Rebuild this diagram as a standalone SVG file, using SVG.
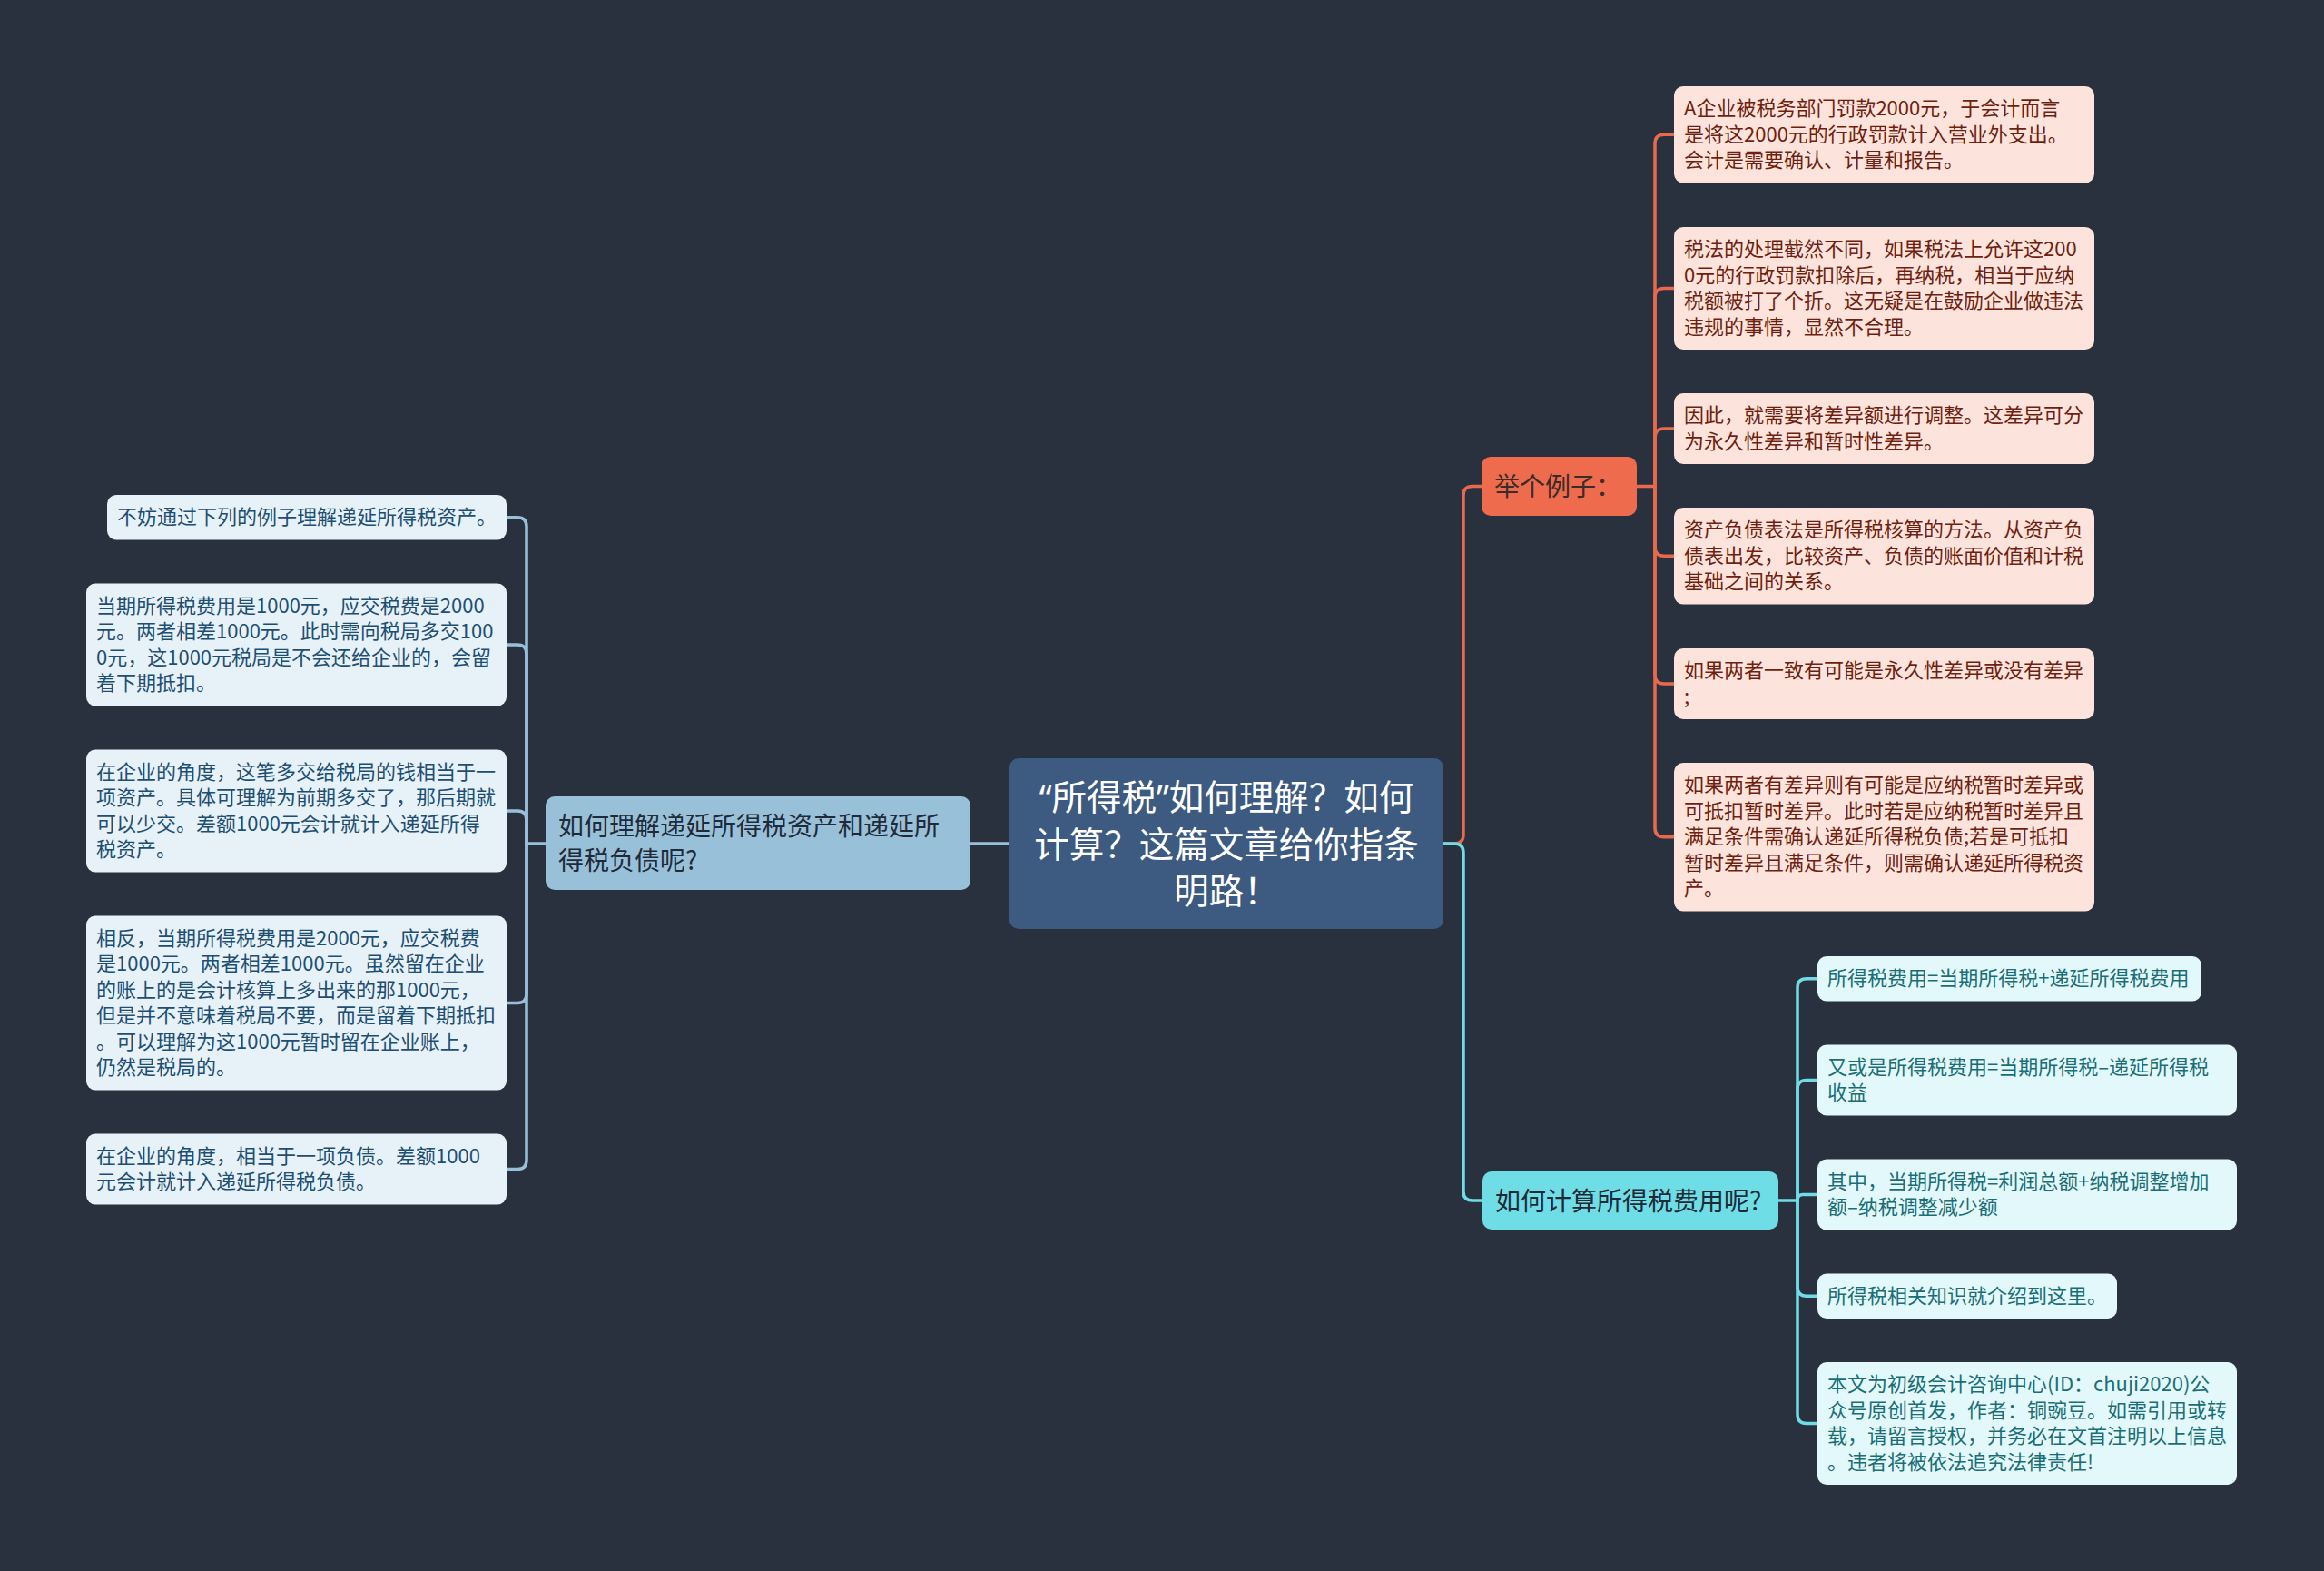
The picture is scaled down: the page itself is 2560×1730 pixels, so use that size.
<svg xmlns="http://www.w3.org/2000/svg" width="2560" height="1730" viewBox="0 0 2560 1730">
<style>
text{font-family:"Noto Sans CJK SC","Noto Sans",sans-serif}
.leaf{font-size:22px}
.q{font-family:"Noto Sans","Noto Sans CJK SC",sans-serif}
.con{fill:none;stroke-width:3.5;stroke-linecap:round;stroke-linejoin:round}
.cO{stroke:#e8694c}.cC{stroke:#6fdde6}.cB{stroke:#98c1d9}
.oL rect{fill:#fce3dc}.oL text{fill:#6f1f0f}
.cL rect{fill:#e3f8fa}.cL text{fill:#1a6f76}
.bL rect{fill:#e7f1f8}.bL text{fill:#1d4f73}
</style>
<rect width="2560" height="1730" fill="#29313f"/>
<g id="connectors">
<path class="con cB" d="M1112,929 H1069"/>
<path class="con cB" d="M601,929 H580"/>
<path class="con cB" d="M580,929 V579.75 Q580,569.75 570,569.75 H558"/>
<path class="con cB" d="M580,929 V720 Q580,710 570,710 H558"/>
<path class="con cB" d="M580,929 V903 Q580,893 570,893 H558"/>
<path class="con cB" d="M580,929 V1094.5 Q580,1104.5 570,1104.5 H558"/>
<path class="con cB" d="M580,929 V1277.5 Q580,1287.5 570,1287.5 H558"/>
<path class="con cO" d="M1590,929 H1602 Q1612,929 1612,919 V545.5 Q1612,535.5 1622,535.5 H1632"/>
<path class="con cC" d="M1590,929 H1602 Q1612,929 1612,939 V1312 Q1612,1322 1622,1322 H1633"/>
<path class="con cO" d="M1803,535.5 H1823"/>
<path class="con cO" d="M1823,535.5 V158.25 Q1823,148.25 1833,148.25 H1844"/>
<path class="con cO" d="M1823,535.5 V327.5 Q1823,317.5 1833,317.5 H1844"/>
<path class="con cO" d="M1823,535.5 V482 Q1823,472 1833,472 H1844"/>
<path class="con cO" d="M1823,535.5 V602.25 Q1823,612.25 1833,612.25 H1844"/>
<path class="con cO" d="M1823,535.5 V743 Q1823,753 1833,753 H1844"/>
<path class="con cO" d="M1823,535.5 V911.75 Q1823,921.75 1833,921.75 H1844"/>
<path class="con cC" d="M1959,1322 H1980"/>
<path class="con cC" d="M1980,1322 V1087.75 Q1980,1077.75 1990,1077.75 H2002"/>
<path class="con cC" d="M1980,1322 V1199.5 Q1980,1189.5 1990,1189.5 H2002"/>
<path class="con cC" d="M1980,1322 V1321.5 Q1980,1315.5 1986,1315.5 H2002"/>
<path class="con cC" d="M1980,1322 V1417.25 Q1980,1427.25 1990,1427.25 H2002"/>
<path class="con cC" d="M1980,1322 V1557.5 Q1980,1567.5 1990,1567.5 H2002"/>
</g>
<g id="root">
<rect x="1112" y="835" width="478" height="188" rx="10" fill="#3d5a80"/>
<text x="1351" font-size="38.5" fill="#ffffff" text-anchor="middle"><tspan x="1351" y="892"><tspan class="q">“</tspan>所得税<tspan class="q">”</tspan>如何理解？如何</tspan><tspan x="1351" y="943.5">计算？这篇文章给你指条</tspan><tspan x="1351" y="995">明路！</tspan></text>
</g>
<g id="branch-left">
<rect x="601" y="877" width="468" height="103" rx="10" fill="#98c1d9"/>
<text font-size="28" fill="#1f2b38"><tspan x="615" y="920">如何理解递延所得税资产和递延所</tspan><tspan x="615" y="958">得税负债呢?</tspan></text>
</g>
<g id="branch-example">
<rect x="1632" y="503" width="171" height="65" rx="10" fill="#ee6b4d"/>
<text x="1646" y="546" font-size="28" fill="#3a2c28">举个例子：</text>
</g>
<g id="branch-calc">
<rect x="1633" y="1290" width="326" height="64" rx="10" fill="#6fdde6"/>
<text x="1647" y="1333" font-size="28" fill="#1e2a35">如何计算所得税费用呢?</text>
</g>
<g id="o1" class="oL"><rect x="1844" y="95" width="463" height="106.5" rx="10"/><text class="leaf"><tspan x="1855" y="127">A企业被税务部门罚款2000元，于会计而言</tspan><tspan x="1855" y="155.5">是将这2000元的行政罚款计入营业外支出。</tspan><tspan x="1855" y="184">会计是需要确认、计量和报告。</tspan></text></g>
<g id="o2" class="oL"><rect x="1844" y="250" width="463" height="135" rx="10"/><text class="leaf"><tspan x="1855" y="282">税法的处理截然不同，如果税法上允许这200</tspan><tspan x="1855" y="310.5">0元的行政罚款扣除后，再纳税，相当于应纳</tspan><tspan x="1855" y="339">税额被打了个折。这无疑是在鼓励企业做违法</tspan><tspan x="1855" y="367.5">违规的事情，显然不合理。</tspan></text></g>
<g id="o3" class="oL"><rect x="1844" y="433" width="463" height="78" rx="10"/><text class="leaf"><tspan x="1855" y="465">因此，就需要将差异额进行调整。这差异可分</tspan><tspan x="1855" y="493.5">为永久性差异和暂时性差异。</tspan></text></g>
<g id="o4" class="oL"><rect x="1844" y="559" width="463" height="106.5" rx="10"/><text class="leaf"><tspan x="1855" y="591">资产负债表法是所得税核算的方法。从资产负</tspan><tspan x="1855" y="619.5">债表出发，比较资产、负债的账面价值和计税</tspan><tspan x="1855" y="648">基础之间的关系。</tspan></text></g>
<g id="o5" class="oL"><rect x="1844" y="714" width="463" height="78" rx="10"/><text class="leaf"><tspan x="1855" y="746">如果两者一致有可能是永久性差异或没有差异</tspan><tspan x="1855" y="774.5">;</tspan></text></g>
<g id="o6" class="oL"><rect x="1844" y="840" width="463" height="163.5" rx="10"/><text class="leaf"><tspan x="1855" y="872">如果两者有差异则有可能是应纳税暂时差异或</tspan><tspan x="1855" y="900.5">可抵扣暂时差异。此时若是应纳税暂时差异且</tspan><tspan x="1855" y="929">满足条件需确认递延所得税负债;若是可抵扣</tspan><tspan x="1855" y="957.5">暂时差异且满足条件，则需确认递延所得税资</tspan><tspan x="1855" y="986">产。</tspan></text></g>
<g id="c1" class="cL"><rect x="2002" y="1053" width="423" height="49.5" rx="10"/><text class="leaf"><tspan x="2013" y="1085">所得税费用=当期所得税+递延所得税费用</tspan></text></g>
<g id="c2" class="cL"><rect x="2002" y="1150.5" width="462" height="78" rx="10"/><text class="leaf"><tspan x="2013" y="1182.5">又或是所得税费用=当期所得税–递延所得税</tspan><tspan x="2013" y="1211">收益</tspan></text></g>
<g id="c3" class="cL"><rect x="2002" y="1276.5" width="462" height="78" rx="10"/><text class="leaf"><tspan x="2013" y="1308.5">其中，当期所得税=利润总额+纳税调整增加</tspan><tspan x="2013" y="1337">额–纳税调整减少额</tspan></text></g>
<g id="c4" class="cL"><rect x="2002" y="1402.5" width="330" height="49.5" rx="10"/><text class="leaf"><tspan x="2013" y="1434.5">所得税相关知识就介绍到这里。</tspan></text></g>
<g id="c5" class="cL"><rect x="2002" y="1500" width="462" height="135" rx="10"/><text class="leaf"><tspan x="2013" y="1532">本文为初级会计咨询中心(ID：chuji2020)公</tspan><tspan x="2013" y="1560.5">众号原创首发，作者：铜豌豆。如需引用或转</tspan><tspan x="2013" y="1589">载，请留言授权，并务必在文首注明以上信息</tspan><tspan x="2013" y="1617.5">。违者将被依法追究法律责任!</tspan></text></g>
<g id="b1" class="bL"><rect x="118" y="545" width="440" height="49.5" rx="10"/><text class="leaf"><tspan x="129" y="577">不妨通过下列的例子理解递延所得税资产。</tspan></text></g>
<g id="b2" class="bL"><rect x="95" y="642.5" width="463" height="135" rx="10"/><text class="leaf"><tspan x="106" y="674.5">当期所得税费用是1000元，应交税费是2000</tspan><tspan x="106" y="703">元。两者相差1000元。此时需向税局多交100</tspan><tspan x="106" y="731.5">0元，这1000元税局是不会还给企业的，会留</tspan><tspan x="106" y="760">着下期抵扣。</tspan></text></g>
<g id="b3" class="bL"><rect x="95" y="825.5" width="463" height="135" rx="10"/><text class="leaf"><tspan x="106" y="857.5">在企业的角度，这笔多交给税局的钱相当于一</tspan><tspan x="106" y="886">项资产。具体可理解为前期多交了，那后期就</tspan><tspan x="106" y="914.5">可以少交。差额1000元会计就计入递延所得</tspan><tspan x="106" y="943">税资产。</tspan></text></g>
<g id="b4" class="bL"><rect x="95" y="1008.5" width="463" height="192" rx="10"/><text class="leaf"><tspan x="106" y="1040.5">相反，当期所得税费用是2000元，应交税费</tspan><tspan x="106" y="1069">是1000元。两者相差1000元。虽然留在企业</tspan><tspan x="106" y="1097.5">的账上的是会计核算上多出来的那1000元，</tspan><tspan x="106" y="1126">但是并不意味着税局不要，而是留着下期抵扣</tspan><tspan x="106" y="1154.5">。可以理解为这1000元暂时留在企业账上，</tspan><tspan x="106" y="1183">仍然是税局的。</tspan></text></g>
<g id="b5" class="bL"><rect x="95" y="1248.5" width="463" height="78" rx="10"/><text class="leaf"><tspan x="106" y="1280.5">在企业的角度，相当于一项负债。差额1000</tspan><tspan x="106" y="1309">元会计就计入递延所得税负债。</tspan></text></g>
</svg>
